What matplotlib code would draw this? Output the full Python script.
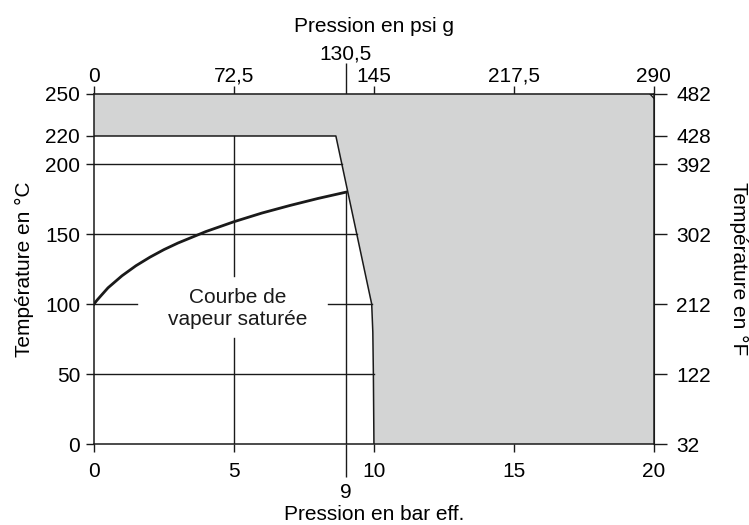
import matplotlib
matplotlib.use('Agg')
import matplotlib.pyplot as plt
import numpy as np

plt.rcParams['font.family'] = ['Liberation Sans', 'DejaVu Sans']
plt.rcParams['font.size'] = 15

# saturated steam curve (bar g -> degC)
sat_p = [0, 0.1, 0.25, 0.5, 1, 1.5, 2, 2.5, 3, 4, 5, 6, 7, 8, 9]
sat_t = [100, 102.6, 106.0, 111.6, 120.2, 127.4, 133.5, 138.9, 143.6, 151.8, 158.8, 165.0, 170.4, 175.4, 179.9]

# limit of the usable range (grey area to the right / above)
limit_p = [8.64, 9.92, 9.96, 9.98, 10.0]
limit_t = [220, 100, 80, 50, 0]

bar_ticks = [0, 5, 10, 15, 20]
bar_labels = ['0', '5', '10', '15', '20']
psi_ticks = [0, 72.5, 145, 217.5, 290]
psi_labels = ['0', '72,5', '145', '217,5', '290']
degc_ticks = [0, 50, 100, 150, 200, 220, 250]
degf_ticks = [32, 122, 212, 302, 392, 428, 482]

ink = '#1a1a1a'
grey = '#d3d4d4'

fig = plt.figure(figsize=(7.49, 5.25), dpi=100)
ax = fig.add_axes([0.1255, 0.154, 0.7475, 0.667])
ax.set_xlim(0, 20)
ax.set_ylim(0, 250)

# grey region
poly_p = [0, 19.86, 20, 20] + limit_p[::-1] + [0]
poly_t = [250, 250, 247, 0] + limit_t[::-1] + [220]
ax.fill(poly_p, poly_t, color=grey, lw=0, zorder=1)
ax.plot([0] + limit_p, [220] + limit_t, color=ink, lw=1.1, zorder=3)
ax.plot([19.86, 20], [250, 247], color=ink, lw=1.0, zorder=3)

# grid lines
for t in [200, 150]:
    ax.plot([0, np.interp(t, limit_t[::-1], limit_p[::-1])], [t, t], color=ink, lw=1.0, zorder=2)
ax.plot([0, 10], [50, 50], color=ink, lw=1.0, zorder=2)
ax.plot([0, 1.52], [100, 100], color=ink, lw=1.0, zorder=2)
ax.plot([8.37, 9.92], [100, 100], color=ink, lw=1.0, zorder=2)
ax.plot([5, 5], [0, 76], color=ink, lw=1.0, zorder=2)
ax.plot([5, 5], [120, 220], color=ink, lw=1.0, zorder=2)
ax.plot([9, 9], [0, 179.9], color=ink, lw=1.0, zorder=2)

# saturated steam curve
ax.plot(sat_p, sat_t, color=ink, lw=2.0, zorder=4)

ax.text(5.12, 96.5, 'Courbe de\nvapeur saturée', ha='center', va='center',
        fontsize=15, color=ink, linespacing=1.2)

for s in ax.spines.values():
    s.set_color(ink)
    s.set_linewidth(1.1)
    s.set_zorder(5)

# bottom / left axes
ax.set_xticks(bar_ticks, bar_labels)
ax.set_xticks([9], ['9'], minor=True)
ax.set_yticks(degc_ticks)
ax.tick_params(axis='x', which='major', direction='out', length=6, width=1, color=ink, pad=7)
ax.tick_params(axis='x', which='minor', direction='out', length=24, width=1, color=ink, pad=4)
ax.tick_params(axis='y', direction='out', length=6, width=1, color=ink, pad=4)
ax.set_xlabel('Pression en bar eff.', va='center')
ax.xaxis.set_label_coords(0.5, -0.2)
ax.set_ylabel('Température en °C', labelpad=8)

# top axis in psi g
top = ax.secondary_xaxis('top', functions=(lambda b: b * 14.5, lambda p: p / 14.5))
top.set_xticks(psi_ticks, psi_labels)
top.set_xticks([130.5], ['130,5'], minor=True)
top.tick_params(which='major', direction='out', length=6, width=1, color=ink, pad=0)
top.tick_params(which='minor', direction='out', length=22, width=1, color=ink, pad=0)
top.spines['top'].set_color(ink)
top.set_xlabel('Pression en psi g', labelpad=9)

# right axis in degF
right = ax.secondary_yaxis('right', functions=(lambda c: c * 1.8 + 32, lambda f: (f - 32) / 1.8))
right.set_yticks(degf_ticks)
right.tick_params(direction='out', length=9, width=1, color=ink, pad=7)
right.spines['right'].set_color(ink)
right.set_ylabel('Température en °F', rotation=270, labelpad=27)

fig.savefig('out.png', dpi=100)
